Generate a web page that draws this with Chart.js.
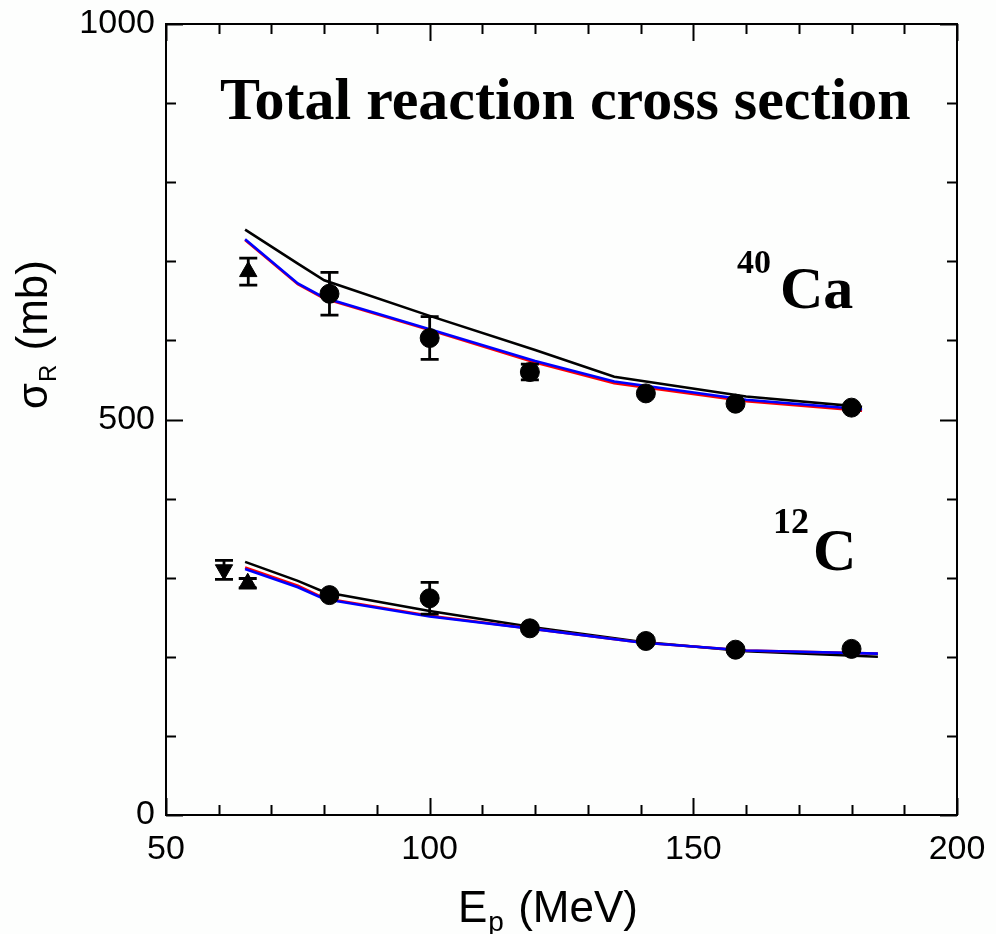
<!DOCTYPE html>
<html>
<head>
<meta charset="utf-8">
<title>Total reaction cross section</title>
<script src="https://cdn.jsdelivr.net/npm/chart.js@4.4.0/dist/chart.umd.min.js"></script>
<style>
    html, body { margin: 0; padding: 0; background: #fdfefd; }
    #wrap { width: 996px; height: 934px; }
</style>
</head>
<body>
<div id="wrap"><canvas id="chart" width="996" height="934"></canvas></div>
<script>
// Proton energies (MeV) and measured cross sections (mb), with errors
const caExpE = [81, 100, 119, 141, 158, 180];
const caExpSigma = [659, 603, 560, 533, 520, 515];
const caExpErr = [27, 27, 10, 0, 0, 0];
const caTriE = [65.6];
const caTriSigma = [687];
const caTriErr = [17];

const cExpE = [81, 100, 119, 141, 158, 180];
const cExpSigma = [278, 274, 236, 220, 209, 210];
const cExpErr = [0, 20, 0, 0, 0, 0];
const cTriE = [65.5];
const cTriSigma = [293];
const cTriErr = [6];
const cInvTriE = [61];
const cInvTriSigma = [310];
const cInvTriErr = [12];

// Calculated curves
const caCalcE = [65, 75, 80, 100, 120, 135, 160, 182];
const caBlack = [740, 697, 676, 631, 588, 554, 529, 516];
const caRed = [727, 671, 653, 613, 572, 546, 523, 511];
const caBlue = [728, 672, 654, 614, 574, 548, 525, 513];

const cCalcE = [65, 75, 80, 100, 120, 140, 160, 185];
const cBlack = [320, 296, 282, 258, 237, 219, 207, 200];
const cRed = [313, 290, 274, 252, 235, 218, 208, 204];
const cBlue = [311, 288, 273, 251, 235, 218, 208, 204];

// Axis ranges and tick spacing
const xRange = [50, 200];
const yRange = [0, 1000];
const xMajor = 50, xMinor = 10;
const yMajor = 500, yMinor = 100;

const SANS = '"Liberation Sans", Arial, sans-serif';
const SERIF = '"Liberation Serif", "Times New Roman", serif';

function toXY(xs, ys, errs) {
    return xs.map((x, i) => ({ x: x, y: ys[i], err: errs ? errs[i] : 0 }));
}

// order: higher numbers are painted first, so blue ends up over red over black
function curve(xs, ys, color, order) {
    return {
        type: 'line',
        data: toXY(xs, ys),
        borderColor: color,
        borderWidth: 2.6,
        pointRadius: 0,
        tension: 0,
        showLine: true,
        fill: false,
        order: order
    };
}

function markers(xs, ys, errs, style, rotation, radius) {
    return {
        type: 'scatter',
        data: toXY(xs, ys, errs),
        pointStyle: style,
        rotation: rotation,
        pointRadius: radius,
        backgroundColor: '#000',
        borderColor: '#000',
        borderWidth: 1,
        showLine: false,
        errorBars: true,
        order: 0
    };
}

// Vertical error bars with caps
const errorBarPlugin = {
    id: 'errorBars',
    afterDatasetsDraw(chart) {
        const ctx = chart.ctx;
        const xs = chart.scales.x, ys = chart.scales.y;
        ctx.save();
        ctx.strokeStyle = '#000';
        ctx.lineWidth = 2.8;
        chart.data.datasets.forEach(ds => {
            if (!ds.errorBars) return;
            ds.data.forEach(p => {
                if (!p.err) return;
                const px = xs.getPixelForValue(p.x);
                const top = ys.getPixelForValue(p.y + p.err);
                const bot = ys.getPixelForValue(p.y - p.err);
                ctx.beginPath();
                ctx.moveTo(px, top); ctx.lineTo(px, bot);
                ctx.moveTo(px - 9, top); ctx.lineTo(px + 9, top);
                ctx.moveTo(px - 9, bot); ctx.lineTo(px + 9, bot);
                ctx.stroke();
            });
        });
        ctx.restore();
    }
};

// Closed frame with inward major/minor ticks on all four sides
const framePlugin = {
    id: 'frame',
    afterDraw(chart) {
        const ctx = chart.ctx;
        const a = chart.chartArea;
        const xs = chart.scales.x, ys = chart.scales.y;
        ctx.save();
        ctx.strokeStyle = '#000';
        ctx.lineWidth = 2;
        ctx.strokeRect(a.left, a.top, a.right - a.left, a.bottom - a.top);
        ctx.beginPath();
        for (let v = xRange[0]; v <= xRange[1]; v += xMinor) {
            const px = Math.round(xs.getPixelForValue(v)) + 0.5;
            const len = (v % xMajor === 0) ? 17 : 10;
            ctx.moveTo(px, a.bottom); ctx.lineTo(px, a.bottom - len);
            ctx.moveTo(px, a.top); ctx.lineTo(px, a.top + len);
        }
        for (let v = yRange[0]; v <= yRange[1]; v += yMinor) {
            const py = Math.round(ys.getPixelForValue(v)) + 0.5;
            const len = (v % yMajor === 0) ? 17 : 10;
            ctx.moveTo(a.left, py); ctx.lineTo(a.left + len, py);
            ctx.moveTo(a.right, py); ctx.lineTo(a.right - len, py);
        }
        ctx.stroke();
        ctx.restore();
    }
};

// Axis titles with sub-scripts, panel title and nucleus labels
const textPlugin = {
    id: 'texts',
    afterDraw(chart) {
        const ctx = chart.ctx;
        ctx.save();
        ctx.fillStyle = '#000';
        ctx.textBaseline = 'alphabetic';
        ctx.textAlign = 'left';

        // x title: E_p (MeV)
        let x = 458, y = 922;
        ctx.font = '44px ' + SANS;
        ctx.fillText('E', x, y);
        x += ctx.measureText('E').width;
        ctx.font = '28px ' + SANS;
        ctx.fillText('p', x + 1, y + 9);
        x += ctx.measureText('p').width + 3;
        ctx.font = '44px ' + SANS;
        ctx.fillText(' (MeV)', x, y);

        // y title: sigma_R (mb), rotated
        ctx.save();
        ctx.translate(47, 409);
        ctx.rotate(-Math.PI / 2);
        x = 0;
        ctx.font = '42px ' + SANS;
        ctx.fillText('σ', x, 0);
        x += ctx.measureText('σ').width;
        ctx.font = '24px ' + SANS;
        ctx.fillText('R', x + 1, 9);
        x += ctx.measureText('R').width + 3;
        ctx.font = '44px ' + SANS;
        ctx.fillText(' (mb)', x, 0);
        ctx.restore();

        // panel title
        ctx.font = 'bold 60px ' + SERIF;
        ctx.fillText('Total reaction cross section', 220, 119);

        // 40Ca
        ctx.font = 'bold 34px ' + SERIF;
        ctx.fillText('40', 737, 273);
        ctx.font = 'bold 60px ' + SERIF;
        ctx.fillText('Ca', 780, 308);

        // 12C
        ctx.font = 'bold 36px ' + SERIF;
        ctx.fillText('12', 773, 533);
        ctx.font = 'bold 60px ' + SERIF;
        ctx.fillText('C', 813, 570);

        ctx.restore();
    }
};

const ctx = document.getElementById('chart').getContext('2d');
new Chart(ctx, {
    type: 'scatter',
    data: {
        datasets: [
            markers(caExpE, caExpSigma, caExpErr, 'circle', 0, 9.5),
            markers(caTriE, caTriSigma, caTriErr, 'triangle', 0, 10),
            markers(cExpE, cExpSigma, cExpErr, 'circle', 0, 9.5),
            markers(cTriE, cTriSigma, cTriErr, 'triangle', 0, 10),
            markers(cInvTriE, cInvTriSigma, cInvTriErr, 'triangle', 180, 10),
            curve(caCalcE, caBlack, '#000000', 3),
            curve(caCalcE, caRed, '#ff0000', 2),
            curve(caCalcE, caBlue, '#0000ff', 1),
            curve(cCalcE, cBlack, '#000000', 3),
            curve(cCalcE, cRed, '#ff0000', 2),
            curve(cCalcE, cBlue, '#0000ff', 1)
        ]
    },
    options: {
        responsive: false,
        animation: false,
        events: [],
        layout: { padding: { top: 24, right: 39, left: 0, bottom: 0 } },
        plugins: {
            legend: { display: false },
            tooltip: { enabled: false }
        },
        scales: {
            x: {
                type: 'linear',
                min: xRange[0],
                max: xRange[1],
                grid: { display: false, drawTicks: false },
                border: { display: false },
                ticks: {
                    stepSize: xMajor,
                    padding: 14,
                    maxRotation: 0,
                    color: '#000',
                    font: { family: SANS, size: 34 },
                    callback: v => String(v)
                },
                afterFit(scale) {
                    scale.height = 119;
                    scale.paddingLeft = 0;
                    scale.paddingRight = 0;
                }
            },
            y: {
                type: 'linear',
                min: yRange[0],
                max: yRange[1],
                grid: { display: false, drawTicks: false },
                border: { display: false },
                ticks: {
                    stepSize: yMajor,
                    padding: 11,
                    color: '#000',
                    font: { family: SANS, size: 34 },
                    callback: v => String(v)
                },
                afterFit(scale) {
                    scale.width = 166;
                    scale.paddingTop = 0;
                    scale.paddingBottom = 0;
                }
            }
        }
    },
    plugins: [errorBarPlugin, framePlugin, textPlugin]
});
</script>
</body>
</html>
